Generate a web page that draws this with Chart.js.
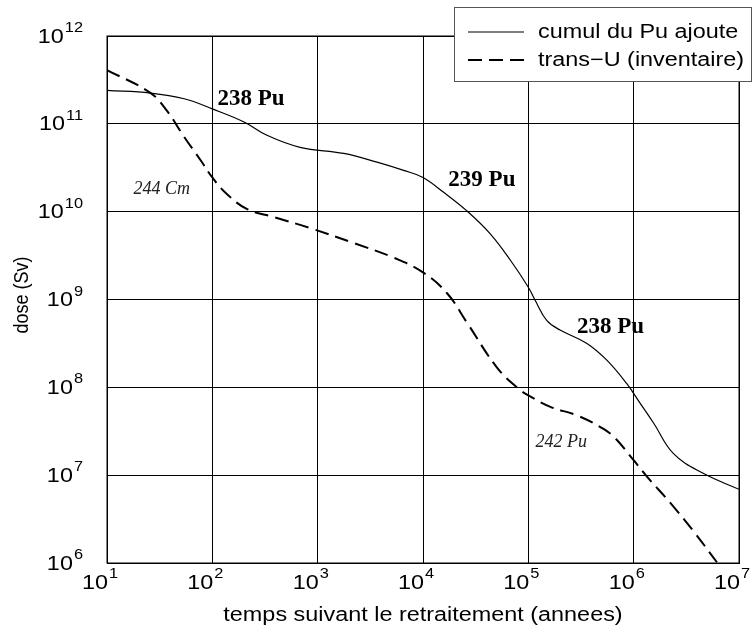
<!DOCTYPE html>
<html>
<head>
<meta charset="utf-8">
<script src="https://cdn.jsdelivr.net/npm/chart.js@4.4.1/dist/chart.umd.min.js"></script>
<style>
  html, body { margin: 0; padding: 0; background: #fff; }
</style>
</head>
<body>
<canvas id="doseChart" width="752" height="630"></canvas>
<script>
// values (years after reprocessing, dose in Sv)
const puYears = [10, 26, 54, 100, 200, 330, 680, 1770, 3660, 6550, 10000, 15700, 26100, 43500, 67600, 100000, 116000, 150000, 200000, 360000, 556000, 861000, 1150000, 1550000, 2390000, 4570000, 10000000];
const puDose  = [2.4e11, 2.24e11, 1.93e11, 1.48e11, 1.05e11, 7.4e10, 5.4e10, 4.6e10, 3.66e10, 2.95e10, 2.45e10, 1.66e10, 1.02e10, 5.6e9, 2.8e9, 1.38e9, 9.8e8, 5.75e8, 4.5e8, 3.16e8, 2.04e8, 1.1e8, 6.6e7, 3.9e7, 1.76e7, 1.05e7, 6.9e6];

const tuYears = [10, 26, 37, 54, 78, 100, 138, 214, 380, 850, 2190, 5250, 10000, 17000, 26300, 50000, 77600, 100000, 162000, 288000, 479000, 646000, 1000000, 1350000, 2240000, 3700000, 6170000];
const tuDose  = [4.1e11, 2.24e11, 1.41e11, 7.1e10, 3.8e10, 2.45e10, 1.58e10, 1.07e10, 8.7e9, 6.5e9, 4.4e9, 3.0e9, 2.04e9, 1.17e9, 5.4e8, 1.7e8, 1.0e8, 8.1e7, 6.0e7, 4.8e7, 3.55e7, 2.75e7, 1.48e7, 9.5e6, 4.8e6, 2.3e6, 1.02e6];

const seriesNames = ["cumul du Pu ajoute", "trans\u2212U (inventaire)"];

const xTicks = [1e1, 1e2, 1e3, 1e4, 1e5, 1e6, 1e7];
const yTicks = [1e6, 1e7, 1e8, 1e9, 1e10, 1e11, 1e12];

// isotope labels, placed in data units
const notes = [
    { text: "238 Pu", x: 112, y: 1.9e11, font: "bold 23px 'Liberation Serif'" },
    { text: "239 Pu", x: 17400, y: 2.3e10, font: "bold 23px 'Liberation Serif'" },
    { text: "238 Pu", x: 2.9e5, y: 4.8e8, font: "bold 23px 'Liberation Serif'" },
    { text: "244 Cm", x: 17.8, y: 1.8e10, font: "italic 18px 'Liberation Serif'" },
    { text: "242 Pu", x: 1.17e5, y: 2.4e7, font: "italic 18px 'Liberation Serif'" }
];

const toPoints = (xs, ys) => xs.map((x, i) => ({ x: x, y: ys[i] }));

const SANS = "'Liberation Sans', Arial, sans-serif";
const STRETCH = 1.17; // the original figure's sans text is a bit wide

// draw text stretched horizontally round its anchor
function wideText(ctx, text, x, y, font, align, baseline) {
    ctx.save();
    ctx.font = font;
    ctx.textAlign = align;
    ctx.textBaseline = baseline;
    ctx.translate(x, y);
    ctx.scale(STRETCH, 1);
    ctx.fillText(text, 0, 0);
    ctx.restore();
}

// frame, tick labels with exponents, axis titles, notes and legend box
const decorations = {
    id: "decorations",
    afterDraw(chart) {
        const ctx = chart.ctx;
        const a = chart.chartArea;
        const xs = chart.scales.x;
        const ys = chart.scales.y;
        ctx.save();

        // box round the plot
        ctx.strokeStyle = "#000";
        ctx.lineWidth = 1;
        ctx.strokeRect(a.left, a.top, a.right - a.left, a.bottom - a.top);

        ctx.fillStyle = "#000";
        const baseFont = "20px " + SANS;
        const expFont = "14px " + SANS;

        // y tick labels: 10 with exponent
        yTicks.forEach(v => {
            const py = ys.getPixelForValue(v);
            const ex = String(Math.round(Math.log10(v)));
            ctx.font = expFont;
            const ew = ctx.measureText(ex).width * STRETCH;
            const right = a.left - 24;
            wideText(ctx, ex, right - ew, py - 4, expFont, "left", "alphabetic");
            wideText(ctx, "10", right - ew - 1, py + 1, baseFont, "right", "middle");
        });

        // x tick labels
        xTicks.forEach(v => {
            const px = xs.getPixelForValue(v);
            const ex = String(Math.round(Math.log10(v)));
            wideText(ctx, "10", px + 1, a.bottom + 20, baseFont, "right", "middle");
            wideText(ctx, ex, px + 2, a.bottom + 15, expFont, "left", "alphabetic");
        });

        // axis titles
        wideText(ctx, "temps suivant le retraitement (annees)", (a.left + a.right) / 2, 621, baseFont, "center", "alphabetic");
        ctx.save();
        ctx.translate(28, 295);
        ctx.rotate(-Math.PI / 2);
        ctx.scale(1, STRETCH);
        ctx.font = "18px " + SANS;
        ctx.textAlign = "center";
        ctx.textBaseline = "alphabetic";
        ctx.fillText("dose (Sv)", 0, 0);
        ctx.restore();

        // isotope notes
        ctx.textAlign = "left";
        ctx.textBaseline = "middle";
        notes.forEach(n => {
            ctx.font = n.font;
            ctx.fillStyle = n.font.indexOf("italic") >= 0 ? "#222" : "#000";
            ctx.fillText(n.text, xs.getPixelForValue(n.x), ys.getPixelForValue(n.y));
        });

        // legend
        const lx = 454, ly = 7, lw = 297, lh = 74;
        ctx.fillStyle = "#fff";
        ctx.fillRect(lx, ly, lw, lh);
        ctx.strokeStyle = "#555";
        ctx.lineWidth = 1;
        ctx.strokeRect(lx + 0.5, ly + 0.5, lw, lh);

        chart.data.datasets.forEach((ds, i) => {
            const rowY = ly + 25 + i * 28;
            ctx.strokeStyle = "#000";
            ctx.lineWidth = ds.borderWidth;
            ctx.setLineDash(ds.borderDash || []);
            ctx.beginPath();
            ctx.moveTo(lx + 14, rowY);
            ctx.lineTo(lx + 70, rowY);
            ctx.stroke();
            ctx.setLineDash([]);
            ctx.fillStyle = "#000";
            wideText(ctx, ds.label, lx + 84, rowY, baseFont, "left", "middle");
        });

        ctx.restore();
    }
};

new Chart(document.getElementById("doseChart"), {
    type: "line",
    data: {
        datasets: [
            {
                label: seriesNames[0],
                data: toPoints(puYears, puDose),
                borderColor: "#000",
                borderWidth: 1.2,
                pointRadius: 0,
                tension: 0.4,
                fill: false
            },
            {
                label: seriesNames[1],
                data: toPoints(tuYears, tuDose),
                borderColor: "#000",
                borderWidth: 2,
                borderDash: [14, 7],
                pointRadius: 0,
                tension: 0.4,
                fill: false
            }
        ]
    },
    options: {
        responsive: false,
        animation: false,
        layout: { padding: { left: 107, right: 13, top: 36, bottom: 67 } },
        plugins: {
            legend: { display: false },
            tooltip: { enabled: false }
        },
        scales: {
            x: {
                type: "logarithmic",
                min: 1e1,
                max: 1e7,
                afterBuildTicks: s => { s.ticks = xTicks.map(v => ({ value: v })); },
                ticks: { display: false },
                grid: { color: "#000", lineWidth: 1, drawTicks: false },
                border: { display: true, color: "#000", width: 1 }
            },
            y: {
                type: "logarithmic",
                min: 1e6,
                max: 1e12,
                afterBuildTicks: s => { s.ticks = yTicks.map(v => ({ value: v })); },
                ticks: { display: false },
                grid: { color: "#000", lineWidth: 1, drawTicks: false },
                border: { display: true, color: "#000", width: 1 }
            }
        }
    },
    plugins: [decorations]
});
</script>
</body>
</html>
